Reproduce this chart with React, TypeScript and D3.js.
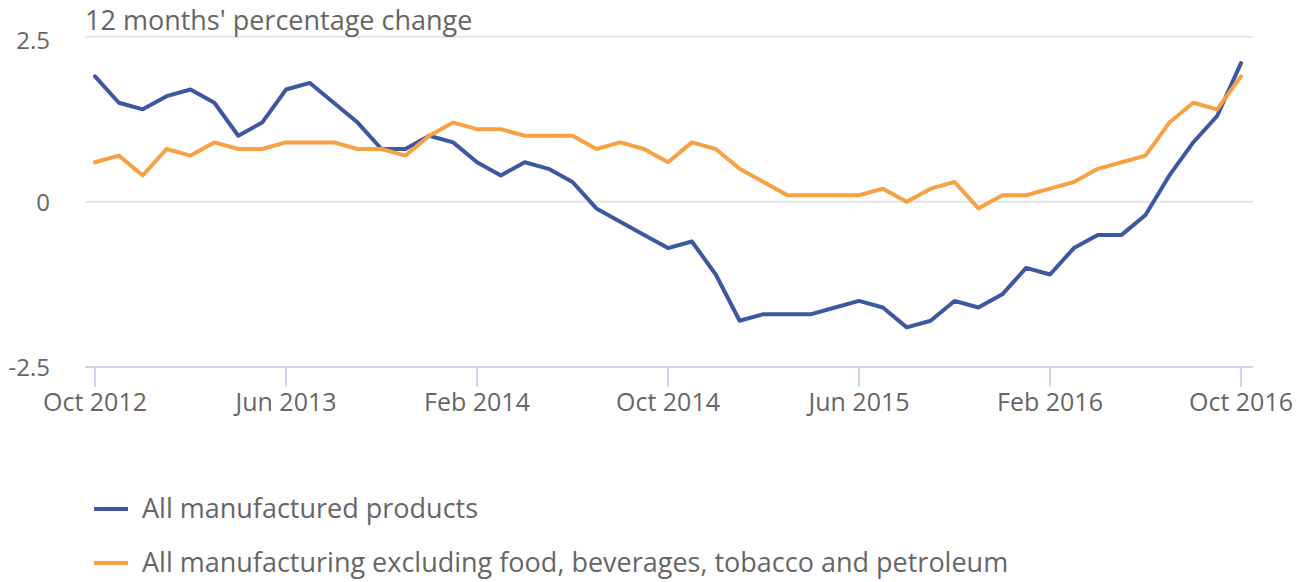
import React, { useEffect, useRef } from 'react';
import * as d3 from 'd3';

const monthNames = ['Jan', 'Feb', 'Mar', 'Apr', 'May', 'Jun', 'Jul', 'Aug', 'Sep', 'Oct', 'Nov', 'Dec'];

// Oct 2012 .. Oct 2016, monthly
const months: string[] = d3.range(49).map(i => {
  const m = (9 + i) % 12;
  const y = 2012 + Math.floor((9 + i) / 12);
  return `${monthNames[m]} ${y}`;
});

const tickLabels = ['Oct 2012', 'Jun 2013', 'Feb 2014', 'Oct 2014', 'Jun 2015', 'Feb 2016', 'Oct 2016'];
const yTicks = [-2.5, 0, 2.5];

const allManufactured = [
  1.9, 1.5, 1.4, 1.6, 1.7, 1.5, 1.0, 1.2, 1.7, 1.8, 1.5, 1.2, 0.8, 0.8, 1.0, 0.9,
  0.6, 0.4, 0.6, 0.5, 0.3, -0.1, -0.3, -0.5, -0.7, -0.6, -1.1, -1.8, -1.7, -1.7, -1.7, -1.6,
  -1.5, -1.6, -1.9, -1.8, -1.5, -1.6, -1.4, -1.0, -1.1, -0.7, -0.5, -0.5, -0.2, 0.4, 0.9, 1.3, 2.1,
];

const excludingFood = [
  0.6, 0.7, 0.4, 0.8, 0.7, 0.9, 0.8, 0.8, 0.9, 0.9, 0.9, 0.8, 0.8, 0.7, 1.0, 1.2,
  1.1, 1.1, 1.0, 1.0, 1.0, 0.8, 0.9, 0.8, 0.6, 0.9, 0.8, 0.5, 0.3, 0.1, 0.1, 0.1,
  0.1, 0.2, 0.0, 0.2, 0.3, -0.1, 0.1, 0.1, 0.2, 0.3, 0.5, 0.6, 0.7, 1.2, 1.5, 1.4, 1.9,
];

const seriesNames = [
  'All manufactured products',
  'All manufacturing excluding food, beverages, tobacco and petroleum',
];
const seriesColors = ['#3c58a1', '#f7a143'];

export default function App() {
  const svgRef = useRef<SVGSVGElement>(null);

  useEffect(() => {
    if (!svgRef.current) return;
    const svg = d3.select(svgRef.current);
    svg.selectAll('*').remove();

    const font = '"Open Sans", sans-serif';
    const textColor = '#666666';

    const plot = { left: 85, right: 1253 };
    const x = d3.scaleLinear().domain([0, months.length - 1]).range([95, 1241]);
    const y = d3.scaleLinear().domain([-2.5, 2.5]).range([367, 36.7]);

    // gridlines
    svg.append('g')
      .selectAll('line')
      .data(yTicks)
      .join('line')
      .attr('x1', plot.left)
      .attr('x2', plot.right)
      .attr('y1', d => y(d))
      .attr('y2', d => y(d))
      .attr('stroke', d => (d === -2.5 ? '#ccd6eb' : '#e6e6e6'))
      .attr('stroke-width', 2);

    // y labels
    svg.append('g')
      .selectAll('text')
      .data(yTicks)
      .join('text')
      .attr('x', 50)
      .attr('y', d => y(d))
      .attr('dy', d => (d === 2.5 ? '0.5em' : '0.38em'))
      .attr('text-anchor', 'end')
      .attr('fill', textColor)
      .style('font-family', font)
      .style('font-size', '24px')
      .text(d => (d === 0 ? '0' : String(d)));

    // x ticks
    const tickIdx = tickLabels.map(t => months.indexOf(t));
    svg.append('g')
      .selectAll('line')
      .data(tickIdx)
      .join('line')
      .attr('x1', d => x(d))
      .attr('x2', d => x(d))
      .attr('y1', 367)
      .attr('y2', 387)
      .attr('stroke', '#ccd6eb')
      .attr('stroke-width', 2);

    svg.append('g')
      .selectAll('text')
      .data(tickIdx)
      .join('text')
      .attr('x', d => x(d))
      .attr('y', 411)
      .attr('text-anchor', 'middle')
      .attr('fill', textColor)
      .style('font-family', font)
      .style('font-size', '25px')
      .text(d => months[d]);

    // title
    svg.append('text')
      .attr('x', plot.left)
      .attr('y', 30)
      .attr('fill', textColor)
      .style('font-family', font)
      .style('font-size', '27px')
      .text("12 months' percentage change");

    // lines
    const line = d3.line<number>()
      .x((_, i) => x(i))
      .y(d => y(d));

    [allManufactured, excludingFood].forEach((values, s) => {
      svg.append('path')
        .datum(values)
        .attr('d', line)
        .attr('fill', 'none')
        .attr('stroke', seriesColors[s])
        .attr('stroke-width', 4)
        .attr('stroke-linejoin', 'round')
        .attr('stroke-linecap', 'round');
    });

    // legend
    const legend = svg.append('g');
    seriesNames.forEach((name, i) => {
      const ly = 509 + i * 54;
      legend.append('line')
        .attr('x1', 94)
        .attr('x2', 128)
        .attr('y1', ly)
        .attr('y2', ly)
        .attr('stroke', seriesColors[i])
        .attr('stroke-width', 4);
      legend.append('text')
        .attr('x', 142)
        .attr('y', ly)
        .attr('dy', '0.35em')
        .attr('fill', textColor)
        .style('font-family', font)
        .style('font-size', '27px')
        .text(name);
    });
  }, []);

  return (
    <svg
      ref={svgRef}
      width={1304}
      height={582}
      style={{ position: 'absolute', left: 0, top: 0, background: '#fff' }}
    />
  );
}
